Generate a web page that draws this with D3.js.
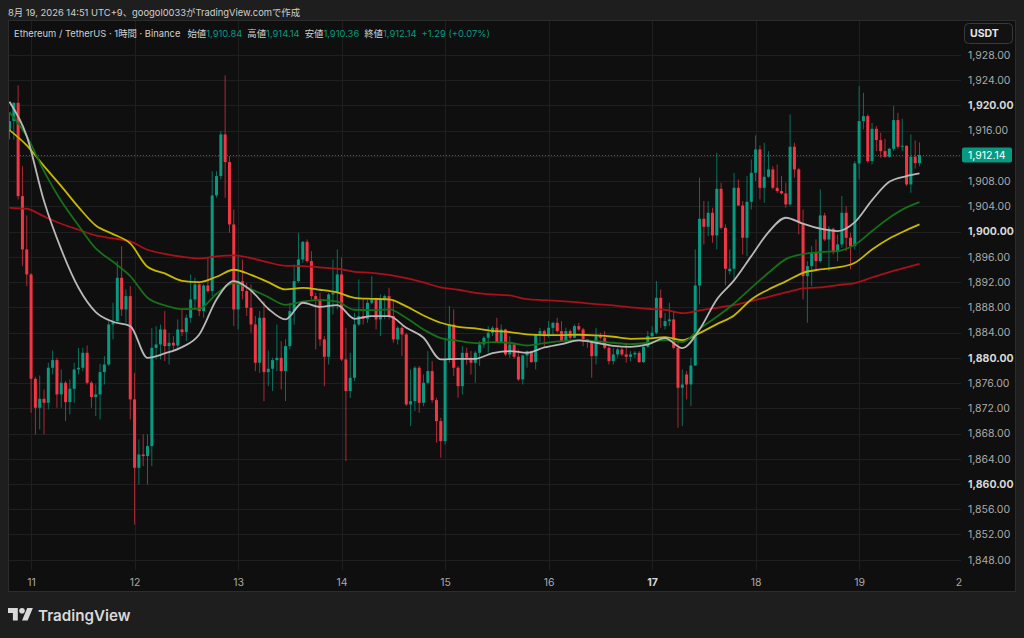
<!DOCTYPE html>
<html><head><meta charset="utf-8">
<script src="https://cdn.jsdelivr.net/npm/d3@7"></script>
<style>
html,body{margin:0;padding:0;background:#1e1e1e;overflow:hidden;}
svg{display:block;font-family:Inter,"Noto Sans CJK JP","Noto Sans",sans-serif;}
</style></head><body>
<svg id="chart" width="1024" height="638"></svg>
<script>
// ---------- DATA ----------
const firstCandle = new Date(2026, 7, 10, 19); // hourly candles
const opens = [1916.08,1917.51,1920.41,1905.62,1897.17,1893.21,1876.67,1872.08,1873.50,1872.87,1878.42,1879.63,1874.19,1876.04,1872.97,1875.09,1878.15,1878.42,1880.79,1876.04,1873.77,1874.19,1877.73,1878.94,1885.28,1885.81,1892.68,1887.66,1889.77,1873.40,1862.57,1864.68,1864.42,1866.00,1881.58,1882.11,1884.49,1881.85,1882.38,1881.95,1884.49,1884.07,1886.34,1889.25,1891.62,1887.40,1891.46,1890.57,1905.73,1908.79,1915.40,1911.01,1901.13,1887.66,1892.15,1890.57,1887.92,1885.28,1879.21,1886.34,1877.73,1878.26,1879.63,1880.00,1877.89,1881.85,1887.40,1892.15,1895.58,1898.38,1895.32,1889.77,1889.25,1882.91,1880.16,1890.04,1890.30,1893.21,1879.74,1874.72,1876.83,1885.28,1886.60,1886.18,1888.72,1889.25,1886.08,1889.25,1889.77,1886.60,1882.91,1884.75,1883.70,1872.60,1873.13,1878.42,1872.87,1876.04,1877.89,1873.29,1869.96,1866.79,1879.74,1885.28,1878.42,1875.51,1880.79,1880.00,1879.21,1880.79,1882.11,1883.17,1883.96,1884.75,1882.48,1884.49,1880.53,1882.11,1880.16,1876.57,1880.37,1881.06,1879.31,1883.70,1884.23,1883.43,1884.75,1885.55,1884.23,1882.70,1884.23,1883.17,1885.02,1884.49,1882.91,1882.60,1880.26,1883.43,1883.17,1881.58,1879.47,1880.53,1881.32,1880.53,1880.16,1880.53,1880.79,1879.31,1881.74,1883.43,1883.96,1889.51,1885.02,1885.81,1886.08,1881.58,1875.25,1877.36,1875.77,1878.78,1891.46,1902.03,1900.76,1902.98,1899.39,1906.78,1900.60,1893.74,1894.11,1906.94,1904.14,1899.02,1904.72,1909.32,1913.02,1906.94,1908.69,1909.85,1906.94,1906.42,1906.05,1904.30,1913.44,1909.85,1901.40,1892.94,1894.53,1896.64,1895.32,1902.56,1898.75,1900.45,1896.75,1897.96,1902.98,1899.02,1897.70,1910.80,1917.51,1918.30,1911.17,1916.29,1914.50,1912.75,1911.86,1913.12,1917.67,1913.44,1913.60,1907.47,1911.86,1910.84];
const highs = [1918.83,1920.50,1923.16,1910.38,1902.56,1893.40,1877.00,1877.20,1874.98,1879.21,1881.16,1880.00,1878.15,1876.30,1876.57,1879.21,1881.58,1881.58,1881.95,1876.30,1875.77,1879.05,1880.26,1885.81,1888.72,1895.32,1897.70,1890.83,1891.36,1877.62,1867.06,1867.85,1867.85,1884.75,1885.02,1885.28,1887.40,1883.96,1883.43,1886.08,1887.66,1886.87,1893.21,1892.68,1891.80,1891.62,1895.85,1909.58,1909.58,1915.92,1924.75,1911.96,1903.51,1896.11,1895.58,1891.89,1891.62,1886.60,1887.40,1888.98,1881.16,1880.00,1885.28,1882.64,1882.91,1888.72,1894.79,1899.81,1898.49,1898.75,1896.91,1890.30,1890.30,1883.43,1890.30,1895.58,1897.17,1895.85,1884.75,1880.79,1887.13,1892.42,1889.25,1889.25,1892.94,1889.50,1890.04,1890.04,1891.09,1889.25,1885.00,1885.02,1883.96,1878.15,1878.68,1878.68,1877.36,1881.06,1879.47,1873.66,1870.49,1883.17,1888.19,1887.66,1878.68,1881.85,1881.58,1881.06,1881.06,1882.64,1883.43,1885.02,1885.02,1886.34,1885.28,1884.60,1883.43,1882.38,1881.32,1880.53,1881.16,1881.10,1883.80,1884.75,1884.49,1885.81,1885.65,1886.34,1885.81,1884.75,1884.49,1885.28,1885.55,1884.75,1883.00,1882.64,1884.75,1883.96,1884.23,1881.85,1881.58,1881.58,1881.58,1882.38,1881.06,1881.06,1881.06,1881.85,1884.23,1885.02,1892.15,1890.83,1887.13,1888.72,1887.40,1882.38,1878.15,1877.89,1880.00,1897.17,1908.53,1904.83,1904.83,1903.77,1912.49,1907.74,1901.13,1897.17,1909.32,1908.26,1904.83,1908.79,1911.43,1915.24,1913.65,1914.08,1912.75,1910.38,1910.64,1908.79,1907.74,1918.57,1914.08,1910.11,1903.51,1895.32,1897.70,1898.75,1906.68,1902.98,1900.87,1900.60,1899.55,1905.62,1904.04,1899.81,1911.17,1923.06,1922.00,1918.57,1917.24,1916.72,1915.66,1914.71,1913.28,1919.89,1918.83,1917.88,1913.65,1915.40,1914.45,1914.14];
const lows = [1914.60,1914.60,1905.09,1894.53,1891.36,1871.28,1867.85,1868.64,1867.85,1871.81,1877.36,1872.08,1872.08,1869.96,1871.02,1872.87,1877.36,1877.89,1875.77,1872.08,1870.75,1870.23,1875.77,1878.68,1882.91,1885.55,1886.60,1885.55,1870.23,1853.58,1859.92,1862.83,1859.92,1862.83,1879.74,1879.74,1879.47,1878.94,1881.06,1881.32,1883.43,1882.64,1885.55,1887.66,1886.60,1886.34,1890.30,1889.77,1905.36,1908.26,1905.36,1899.81,1885.02,1884.49,1889.25,1886.60,1883.96,1877.89,1877.62,1873.13,1875.51,1874.72,1877.89,1874.98,1873.13,1881.32,1885.28,1891.89,1895.06,1895.06,1889.25,1881.32,1881.85,1875.51,1878.94,1886.87,1887.66,1879.50,1863.62,1873.66,1876.30,1885.02,1885.28,1885.55,1888.50,1884.49,1883.43,1886.08,1886.08,1882.38,1882.11,1880.26,1872.34,1869.17,1871.55,1871.28,1872.34,1875.77,1872.87,1866.53,1864.15,1866.26,1879.21,1877.09,1873.66,1874.19,1878.94,1877.36,1876.04,1878.68,1881.58,1880.79,1883.43,1882.38,1882.38,1880.26,1880.00,1879.84,1876.30,1875.77,1878.42,1879.21,1878.15,1882.38,1881.85,1883.17,1883.43,1883.96,1882.64,1882.38,1882.91,1883.10,1884.23,1881.85,1881.58,1876.83,1878.94,1882.91,1881.32,1878.94,1878.94,1880.00,1880.26,1879.21,1879.47,1880.00,1879.21,1879.21,1881.58,1883.17,1883.70,1884.75,1884.49,1885.02,1881.32,1868.91,1869.17,1873.40,1872.34,1878.68,1888.45,1897.96,1899.28,1898.23,1897.17,1900.34,1891.46,1893.21,1892.42,1904.04,1896.38,1896.11,1903.50,1908.00,1905.09,1904.57,1908.53,1906.68,1906.15,1905.89,1903.77,1904.04,1908.53,1899.55,1889.25,1885.55,1891.36,1894.00,1895.06,1898.49,1893.74,1896.38,1895.32,1897.43,1896.91,1894.00,1897.17,1908.26,1916.19,1910.91,1910.64,1912.75,1911.70,1911.70,1911.70,1912.75,1913.12,1912.75,1907.20,1906.15,1910.00,1910.36];
const closes = [1917.51,1920.41,1905.62,1897.17,1893.21,1876.67,1872.08,1873.50,1872.87,1878.42,1879.63,1874.19,1876.04,1872.97,1875.09,1878.15,1878.42,1880.79,1876.04,1873.77,1874.19,1877.73,1878.94,1885.28,1885.81,1892.68,1887.66,1889.77,1873.40,1862.57,1864.68,1864.42,1866.00,1881.58,1882.11,1884.49,1881.85,1882.38,1881.95,1884.49,1884.07,1886.34,1889.25,1891.62,1887.40,1891.46,1890.57,1905.73,1908.79,1915.40,1911.01,1901.13,1887.66,1892.15,1890.57,1887.92,1885.28,1879.21,1886.34,1877.73,1878.26,1879.63,1880.00,1877.89,1881.85,1887.40,1892.15,1895.58,1898.38,1895.32,1889.77,1889.25,1882.91,1880.16,1890.04,1890.30,1893.21,1879.74,1874.72,1876.83,1885.28,1886.60,1886.18,1888.72,1889.25,1886.08,1889.25,1889.77,1886.60,1882.91,1884.75,1883.70,1872.60,1873.13,1878.42,1872.87,1876.04,1877.89,1873.29,1869.96,1866.79,1879.74,1885.28,1878.42,1875.51,1880.79,1880.00,1879.21,1880.79,1882.11,1883.17,1883.96,1884.75,1882.48,1884.49,1880.53,1882.11,1880.16,1876.57,1880.37,1881.06,1879.31,1883.70,1884.23,1883.43,1884.75,1885.55,1884.23,1882.70,1884.23,1883.17,1885.02,1884.49,1882.91,1882.60,1880.26,1883.43,1883.17,1881.58,1879.47,1880.53,1881.32,1880.53,1880.16,1880.53,1880.79,1879.31,1881.74,1883.43,1883.96,1889.51,1886.34,1885.81,1886.08,1881.58,1875.25,1875.77,1875.77,1878.78,1891.46,1902.03,1900.76,1902.98,1899.39,1906.78,1900.60,1894.11,1894.11,1906.94,1904.14,1899.02,1904.72,1909.32,1913.02,1906.94,1908.69,1909.85,1906.94,1906.42,1906.05,1904.30,1913.44,1909.85,1901.40,1892.94,1894.53,1896.64,1895.32,1902.56,1898.75,1900.45,1896.75,1897.96,1902.98,1899.02,1897.70,1910.80,1917.51,1918.30,1911.17,1916.29,1914.50,1912.75,1911.86,1913.12,1917.67,1913.44,1913.60,1907.47,1911.86,1910.84,1912.14];

const maIndex = [0,4,8,12,16,20,24,28,32,36,40,44,48,52,56,60,64,68,72,76,80,84,88,92,96,100,104,108,112,116,120,124,128,132,136,140,144,148,152,156,160,164,168,172,176,180,184,188,192,196,200,204,208,211];
const maGrey = [1920.57,1915.13,1904.83,1897.17,1891.09,1887.24,1885.71,1885.02,1880.00,1880.69,1881.69,1883.70,1889.25,1892.15,1890.67,1887.77,1886.08,1888.72,1888.08,1888.35,1886.18,1886.60,1886.60,1884.75,1883.17,1879.74,1879.84,1879.84,1880.74,1881.06,1880.79,1881.64,1882.17,1882.75,1882.38,1881.90,1881.74,1882.11,1883.12,1881.53,1884.49,1889.25,1892.26,1896.11,1899.92,1902.19,1901.24,1900.45,1900.08,1901.50,1904.99,1907.89,1908.79,1909.21];
const maGreen = [1918.94,1915.13,1909.58,1904.83,1900.97,1897.33,1895.22,1892.94,1889.51,1888.29,1887.71,1887.77,1890.14,1891.83,1890.88,1889.62,1888.40,1888.88,1889.19,1888.88,1887.61,1887.55,1887.66,1886.29,1884.49,1883.12,1882.69,1882.32,1882.48,1882.38,1881.95,1882.32,1882.64,1882.80,1882.64,1882.38,1882.17,1882.38,1882.80,1882.48,1884.60,1886.50,1888.61,1891.09,1893.47,1895.64,1896.43,1896.75,1896.91,1897.91,1900.08,1902.19,1903.83,1904.67];
const maYellow = [1916.08,1913.65,1910.38,1907.21,1903.88,1900.97,1899.60,1898.12,1894.42,1893.37,1892.20,1891.99,1892.84,1893.95,1893.15,1891.99,1890.83,1891.09,1890.78,1890.35,1889.51,1889.35,1889.25,1888.14,1886.71,1885.55,1884.91,1884.65,1884.28,1884.07,1883.70,1883.59,1883.59,1883.65,1883.54,1883.33,1883.01,1883.06,1883.28,1882.80,1883.91,1885.34,1886.71,1889.25,1890.83,1892.10,1893.47,1894.00,1894.32,1895.06,1897.17,1898.91,1900.23,1901.13];
const maRed = [1903.77,1903.62,1902.40,1901.24,1900.29,1899.39,1898.91,1898.44,1897.12,1896.48,1896.01,1895.74,1896.06,1896.22,1895.80,1895.11,1894.58,1894.53,1894.32,1894.11,1893.63,1893.47,1893.15,1892.63,1891.94,1891.15,1890.78,1890.30,1890.04,1889.88,1889.30,1889.14,1888.98,1888.77,1888.51,1888.29,1887.98,1887.77,1887.61,1887.08,1887.50,1887.92,1888.35,1888.98,1889.67,1890.35,1890.99,1891.15,1891.52,1891.83,1892.73,1893.58,1894.32,1894.90];

const priceTicks = [1928,1924,1920,1916,1912,1908,1904,1900,1896,1892,1888,1884,1880,1876,1872,1868,1864,1860,1856,1852,1848];
const boldPriceTicks = [1920,1900,1880,1860];
const dayTicks = [new Date(2026,7,11),new Date(2026,7,12),new Date(2026,7,13),new Date(2026,7,14),new Date(2026,7,15),new Date(2026,7,16),new Date(2026,7,17),new Date(2026,7,18),new Date(2026,7,19),new Date(2026,7,20)];
const dayLabels = ['11','12','13','14','15','16','17','18','19','2'];
const boldDay = '17';

const titleText = '8月 19, 2026 14:51 UTC+9、googol0033がTradingView.comで作成';
const symbolText = 'Ethereum / TetherUS · 1時間 · Binance';
const ohlcLabels = ['始値','高値','安値','終値'];
const changeText = '+1.29 (+0.07%)';
const currencyText = 'USDT';
const brandText = 'TradingView';

// ---------- LAYOUT ----------
const upC = '#089981', downC = '#f23645';
const P = {left: 8, right: 961, top: 21, bottom: 570};
const times = opens.map((_, i) => d3.timeHour.offset(firstCandle, i));
const candles = opens.map((o, i) => ({t: times[i], o, h: highs[i], l: lows[i], c: closes[i]}));

const x = d3.scaleTime().domain([times[0], times[times.length - 1]]).range([9.5, 919.5]);
const y = d3.scaleLinear().domain([1848, 1928]).range([559.7, 54.9]);

const svg = d3.select('#chart');
svg.append('rect').attr('width', 1024).attr('height', 638).attr('fill', '#1e1e1e');
svg.append('rect').attr('x', 8.5).attr('y', 20.5).attr('width', 1007).attr('height', 571)
  .attr('fill', '#0f0f0f').attr('stroke', '#2c2c2c');

svg.append('defs').append('clipPath').attr('id', 'plotclip')
  .append('rect').attr('x', P.left + 1).attr('y', P.top).attr('width', P.right - P.left - 1).attr('height', P.bottom - P.top);

const grid = svg.append('g');
grid.selectAll('.hg').data(priceTicks).join('line')
  .attr('x1', P.left + 1).attr('x2', P.right).attr('y1', d => Math.round(y(d)) + 0.5).attr('y2', d => Math.round(y(d)) + 0.5)
  .attr('stroke', '#1f1f1f');
grid.selectAll('.vg').data(dayTicks.slice(0, -1)).join('line')
  .attr('x1', d => Math.round(x(d)) + 0.5).attr('x2', d => Math.round(x(d)) + 0.5)
  .attr('y1', P.top).attr('y2', P.bottom).attr('stroke', '#1f1f1f');

const plot = svg.append('g').attr('clip-path', 'url(#plotclip)');

// current price dotted line
const last = candles[candles.length - 1];
plot.append('line').attr('x1', P.left).attr('x2', P.right)
  .attr('y1', Math.round(y(last.c)) + 0.5).attr('y2', Math.round(y(last.c)) + 0.5)
  .attr('stroke', upC).attr('stroke-width', 1).attr('stroke-dasharray', '1,2').attr('opacity', 0.8);

// candles
const cg = plot.append('g');
cg.selectAll('.wick').data(candles).join('line')
  .attr('x1', d => x(d.t)).attr('x2', d => x(d.t))
  .attr('y1', d => y(d.h)).attr('y2', d => y(d.l))
  .attr('stroke', d => d.c >= d.o ? upC : downC).attr('stroke-width', 1).attr('opacity', 0.7);
cg.selectAll('.body').data(candles).join('rect')
  .attr('x', d => x(d.t) - 1.5).attr('width', 3)
  .attr('y', d => y(Math.max(d.o, d.c)))
  .attr('height', d => Math.max(1, Math.abs(y(d.o) - y(d.c))))
  .attr('fill', d => d.c >= d.o ? upC : downC);

// moving averages
const maSeries = [
  {v: maRed, c: '#a8101a'},
  {v: maYellow, c: '#c6b800'},
  {v: maGreen, c: '#176f17'},
  {v: maGrey, c: '#b8b8b8'}
];
const line = d3.line().x(d => x(times[d[0]])).y(d => y(d[1])).curve(d3.curveMonotoneX);
maSeries.forEach(s => {
  plot.append('path').datum(maIndex.map((k, i) => [k, s.v[i]]))
    .attr('d', line).attr('fill', 'none').attr('stroke', s.c).attr('stroke-width', 1.8)
    .attr('stroke-linejoin', 'round');
});

// price axis (labels hidden where the last-price label sits)
const cy = y(last.c);
const yAxis = d3.axisRight(y).tickValues(priceTicks.filter(p => Math.abs(y(p) - cy) > 12)).tickSize(0).tickPadding(7)
  .tickFormat(d3.format(',.2f'));
const ya = svg.append('g').attr('transform', `translate(${P.right},0)`).call(yAxis);
ya.select('.domain').remove();
ya.selectAll('text').attr('fill', d => boldPriceTicks.includes(d) ? '#d8d8d8' : '#a9a9a9')
  .attr('font-weight', d => boldPriceTicks.includes(d) ? 700 : 400)
  .style('font-size', '10.5px').style('font-family', 'Inter,sans-serif');

// time axis
const xAxis = d3.axisBottom(x).tickValues(dayTicks).tickSize(0).tickPadding(9)
  .tickFormat((d, i) => dayLabels[i]);
const xa = svg.append('g').attr('transform', `translate(0,${P.bottom})`).call(xAxis);
xa.select('.domain').remove();
xa.selectAll('text').attr('fill', (d, i) => dayLabels[i] === boldDay ? '#d8d8d8' : '#a9a9a9')
  .attr('font-weight', (d, i) => dayLabels[i] === boldDay ? 700 : 400)
  .style('font-size', '10.5px').style('font-family', 'Inter,sans-serif');
xa.selectAll('.tick').filter((d, i) => i === dayTicks.length - 1).attr('transform', `translate(${P.right - 2},0)`);

// current price label
svg.append('rect').attr('x', 962).attr('y', cy - 7.5).attr('width', 50).attr('height', 15).attr('rx', 2).attr('fill', upC);
svg.append('text').attr('x', 968).attr('y', cy).attr('dy', '0.35em').attr('fill', '#ffffff')
  .style('font-size', '10.5px').style('font-family', 'Inter,sans-serif').text(d3.format(',.2f')(last.c));

// currency box
svg.append('rect').attr('x', 964.5).attr('y', 23.5).attr('width', 48).attr('height', 20).attr('rx', 4)
  .attr('fill', '#121212').attr('stroke', '#3a3a3a');
svg.append('text').attr('x', 970).attr('y', 37).attr('fill', '#e6e6e6').attr('font-weight', 700)
  .style('font-size', '10.5px').text(currencyText);

// title
svg.append('text').attr('x', 8).attr('y', 15.5).attr('fill', '#cfcfcf').style('font-size', '9.4px').text(titleText);

// legend
const lg = svg.append('text').attr('x', 14).attr('y', 36.5).style('font-size', '9.4px');
lg.append('tspan').attr('fill', '#cfcfcf').text(symbolText);
const ohlcVals = [last.o, last.h, last.l, last.c];
ohlcLabels.forEach((lab, i) => {
  lg.append('tspan').attr('fill', '#cfcfcf').attr('dx', i === 0 ? 7 : 5).text(lab);
  lg.append('tspan').attr('fill', upC).text(d3.format(',.2f')(ohlcVals[i]));
});
lg.append('tspan').attr('fill', upC).attr('dx', 5).text(changeText);

// brand
const logo = svg.append('g').attr('transform', 'translate(8,605.2) scale(0.7)').attr('fill', '#d9d9d9');
logo.append('path').attr('d', 'M14 22H7V11H0V4h14v18zM28 22h-8l7.5-18h8L28 22z');
logo.append('circle').attr('cx', 20).attr('cy', 8).attr('r', 4);
svg.append('text').attr('x', 38).attr('y', 620.5).attr('fill', '#d9d9d9').attr('font-weight', 600)
  .style('font-size', '15.2px').text(brandText);
</script>
</body></html>
